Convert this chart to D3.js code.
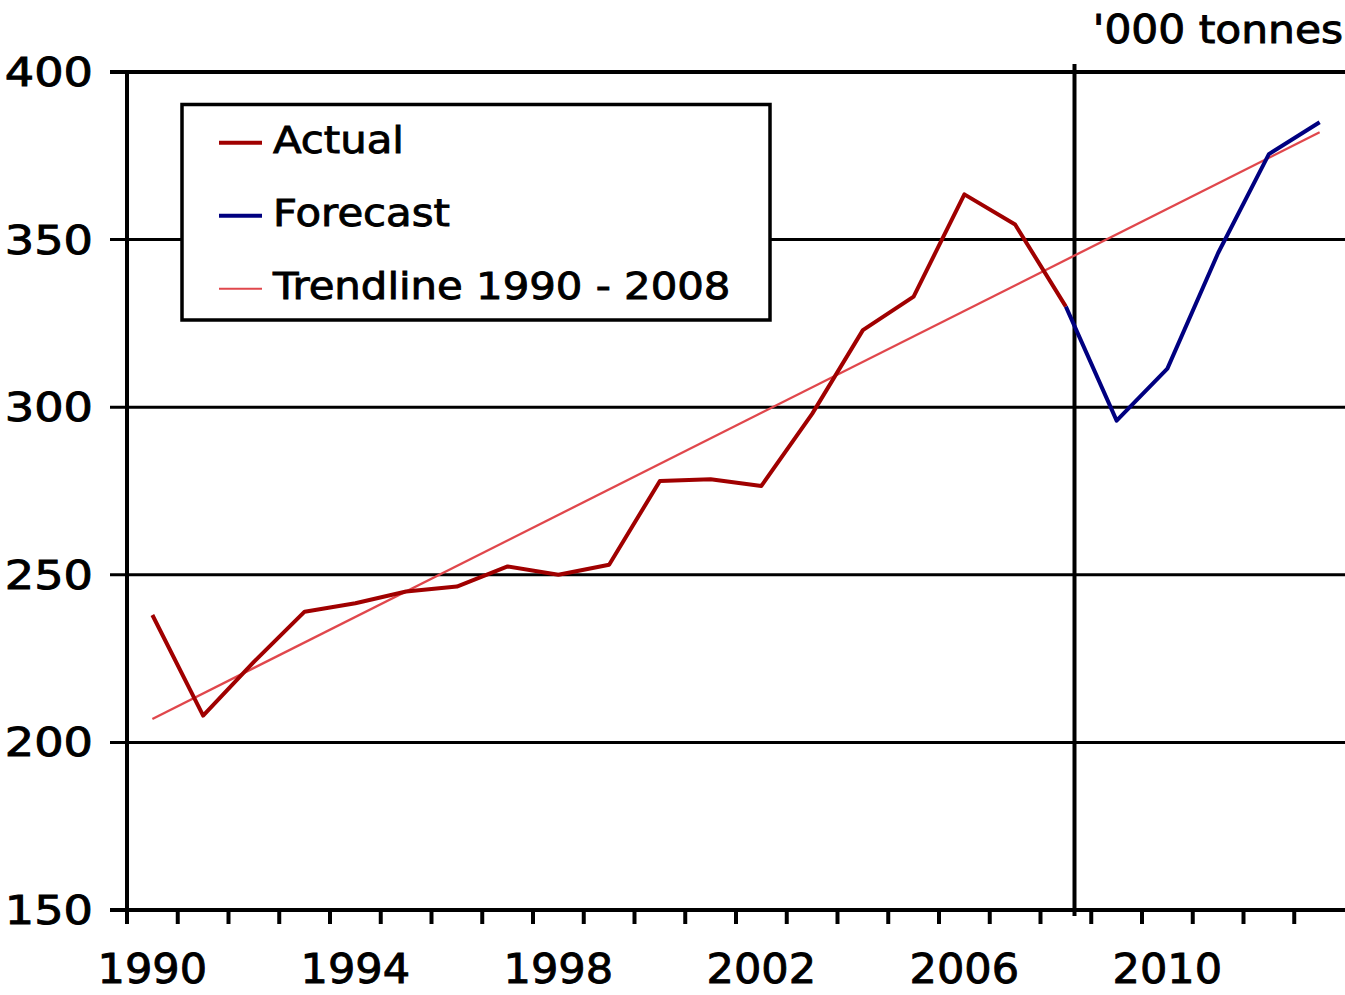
<!DOCTYPE html>
<html>
<head>
<meta charset="utf-8">
<script src="https://cdn.jsdelivr.net/npm/d3@7"></script>
<style>
  body { margin: 0; background: #fff; }
  text { font-family: "DejaVu Sans", Verdana, sans-serif; fill: #000; stroke: #000; stroke-width: 0.9px; }
</style>
</head>
<body>
<svg id="canvas" width="1345" height="995"></svg>
<script>
// categories
let years = [1990, 1991, 1992, 1993, 1994, 1995, 1996, 1997, 1998, 1999, 2000, 2001,
             2002, 2003, 2004, 2005, 2006, 2007, 2008, 2009, 2010, 2011, 2012, 2013]
let yearLabels = [1990, 1994, 1998, 2002, 2006, 2010]
let yTicks = [150, 200, 250, 300, 350, 400]

// series ('000 tonnes)
let actualYears = [1990, 1991, 1992, 1993, 1994, 1995, 1996, 1997, 1998, 1999,
                   2000, 2001, 2002, 2003, 2004, 2005, 2006, 2007, 2008]
let actualValues = [238, 208, 224, 239, 241.5, 245, 246.5, 252.5, 250, 253,
                    278, 278.5, 276.5, 298, 323, 333, 363.5, 354.5, 330]
let forecastYears = [2008, 2009, 2010, 2011, 2012, 2013]
let forecastValues = [330, 296, 311.5, 346, 375.5, 385]
let trendYears = [1990, 2013]
let trendValues = [207, 382]
let forecastFrom = 2008

let legendItems = [
  {label: "Actual", color: "#a00000", width: 4},
  {label: "Forecast", color: "#000080", width: 4},
  {label: "Trendline 1990 - 2008", color: "#e0474c", width: 2.3}
]

let canvas = d3.select('#canvas')

let x = d3.scaleBand().domain(years).range([127, 1345]).padding(0)
let y = d3.scaleLinear().domain([150, 400]).range([910, 72])
let cx = d => x(d) + x.bandwidth() / 2

// stretched text helper (the source font runs wide)
let addText = (g, str, tx, ty, size, sx, anchor) => {
  g.append('text')
    .attr('transform', `translate(${tx},${ty}) scale(${sx},1)`)
    .attr('text-anchor', anchor)
    .style('font-size', size + 'px')
    .text(str)
}

// horizontal gridlines
canvas.append('g')
  .selectAll('line')
  .data(yTicks.filter(d => d > 150))
  .enter()
  .append('line')
  .attr('x1', 110).attr('x2', 1345)
  .attr('y1', d => y(d)).attr('y2', d => y(d))
  .attr('stroke', '#000')
  .attr('stroke-width', d => d == 400 ? 4 : 3)

// y labels
let yl = canvas.append('g')
yTicks.forEach(d => addText(yl, d, 93, y(d) + 14, 38.5, 1.2, 'end'))

// x axis line + ticks at category boundaries
canvas.append('line')
  .attr('x1', 110).attr('x2', 1345)
  .attr('y1', y(150)).attr('y2', y(150))
  .attr('stroke', '#000').attr('stroke-width', 4)

canvas.append('g')
  .selectAll('line')
  .data(years)
  .enter()
  .append('line')
  .attr('x1', d => x(d)).attr('x2', d => x(d))
  .attr('y1', y(150)).attr('y2', y(150) + 14)
  .attr('stroke', '#000').attr('stroke-width', 4)

// y axis line
canvas.append('line')
  .attr('x1', 127).attr('x2', 127)
  .attr('y1', y(400)).attr('y2', y(150) + 14)
  .attr('stroke', '#000').attr('stroke-width', 4)

// x labels
let xl = canvas.append('g')
yearLabels.forEach(d => addText(xl, d, cx(d), 982.5, 41, 1.05, 'middle'))

// forecast divider
let divX = x(forecastFrom) + x.bandwidth() * 0.67
canvas.append('line')
  .attr('x1', divX).attr('x2', divX)
  .attr('y1', 64).attr('y2', y(150) + 6)
  .attr('stroke', '#000').attr('stroke-width', 4)

// unit label
addText(canvas, "'000 tonnes", 1343, 43.3, 38.5, 1.1, 'end')

let line = d3.line().x(d => cx(d[0])).y(d => y(d[1]))

canvas.append('path')
  .datum(d3.zip(trendYears, trendValues))
  .attr('d', line)
  .attr('fill', 'none')
  .attr('stroke', legendItems[2].color)
  .attr('stroke-width', legendItems[2].width)

canvas.append('path')
  .datum(d3.zip(actualYears, actualValues))
  .attr('d', line)
  .attr('fill', 'none')
  .attr('stroke', legendItems[0].color)
  .attr('stroke-width', legendItems[0].width)
  .attr('stroke-linejoin', 'round')

canvas.append('path')
  .datum(d3.zip(forecastYears, forecastValues))
  .attr('d', line)
  .attr('fill', 'none')
  .attr('stroke', legendItems[1].color)
  .attr('stroke-width', legendItems[1].width)
  .attr('stroke-linejoin', 'round')

// legend
let legend = canvas.append('g')
legend.append('rect')
  .attr('x', 182).attr('y', 104.5)
  .attr('width', 588).attr('height', 215.5)
  .attr('fill', '#fff')
  .attr('stroke', '#000').attr('stroke-width', 3.5)

legendItems.forEach((item, i) => {
  let base = 153.3 + i * 73
  legend.append('line')
    .attr('x1', 219).attr('x2', 262)
    .attr('y1', base - 10.6).attr('y2', base - 10.6)
    .attr('stroke', item.color)
    .attr('stroke-width', i == 2 ? 2 : 4)
  addText(legend, item.label, 273, base, 38, 1.1, 'start')
})
</script>
</body>
</html>
